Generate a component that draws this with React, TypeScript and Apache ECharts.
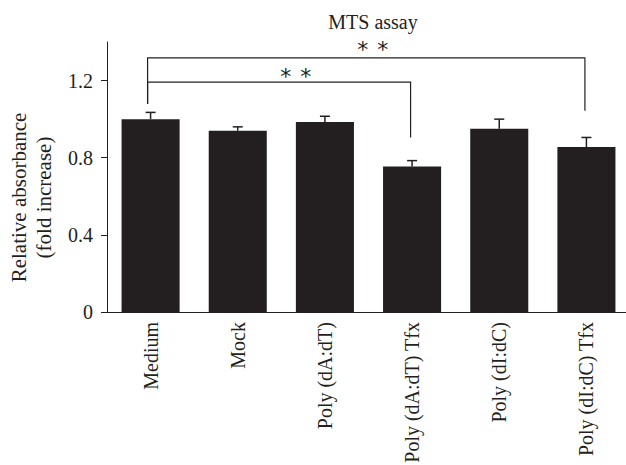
import React, { useEffect, useRef } from 'react';
import * as echarts from 'echarts';

const categories = ['Medium', 'Mock', 'Poly (dA:dT)', 'Poly (dA:dT) Tfx', 'Poly (dI:dC)', 'Poly (dI:dC) Tfx'];
const means = [1.0, 0.94, 0.985, 0.755, 0.95, 0.855];
const errors = [0.035, 0.02, 0.03, 0.03, 0.05, 0.05];
const yTicks = [0, 0.4, 0.8, 1.2];

// significance brackets (category indices and y levels in data units)
const bracketFrom = [0, 0];
const bracketTo = [5, 3];
const bracketLevel = [1.318, 1.192];
const bracketFromEnd = [1.078, 1.078];
const bracketToEnd = [1.043, 0.905];
const bracketStarX = [2.55, 1.665];
const bracketStarY = [1.384, 1.242];
const bracketLabel = ['*', '*'];

const INK = '#231f20';
const FONT = '"Liberation Serif", "Times New Roman", serif';

export default function App() {
  const ref = useRef<HTMLDivElement>(null);
  useEffect(() => {
    if (!ref.current) return;
    const chart = echarts.init(ref.current, undefined, { renderer: 'svg' });
    const errData = means.map((m, i) => [i, m, errors[i]]);
    const brData = bracketFrom.map((f, i) => [f, bracketTo[i], bracketLevel[i], bracketFromEnd[i], bracketToEnd[i], bracketStarX[i], bracketStarY[i]]);
    chart.setOption({
      animation: false,
      textStyle: { fontFamily: FONT },
      grid: { left: 107, top: 42, width: 523, height: 270, containLabel: false, outerBoundsMode: 'none' },
      graphic: [
        {
          type: 'text', x: 373, y: 22,
          style: { text: 'MTS assay', fontFamily: FONT, fontSize: 20, fill: INK, textAlign: 'center', textVerticalAlign: 'middle' },
        },
        {
          type: 'text', x: 31.5, y: 197.5, rotation: Math.PI / 2,
          style: { text: 'Relative absorbance\n(fold increase)', fontFamily: FONT, fontSize: 21, lineHeight: 25, fill: INK, textAlign: 'center', textVerticalAlign: 'middle' },
        },
      ],
      xAxis: {
        type: 'category',
        data: categories,
        axisLine: { lineStyle: { color: INK, width: 1 } },
        axisTick: { show: false },
        axisLabel: { rotate: 90, margin: 10, fontSize: 20, fontFamily: FONT, color: INK, interval: 0 },
      },
      yAxis: {
        type: 'value',
        min: 0,
        max: 1.4,
        interval: 0.4,
        splitLine: { show: false },
        axisLine: { show: true, lineStyle: { color: INK, width: 1 } },
        axisTick: { show: true, length: 6, customValues: yTicks, lineStyle: { color: INK } },
        axisLabel: { margin: 14, fontSize: 20, fontFamily: FONT, color: INK, customValues: yTicks },
      },
      series: [
        {
          type: 'bar',
          data: means,
          barCategoryGap: '33.4%',
          itemStyle: { color: INK },
        },
        {
          type: 'custom',
          data: errData,
          z: 5,
          renderItem: (params: any, api: any) => {
            const i = api.value(0);
            const m = api.value(1);
            const e = api.value(2);
            const base = api.coord([i, m]);
            const top = api.coord([i, m + e]);
            return {
              type: 'group',
              children: [
                { type: 'line', shape: { x1: base[0], y1: base[1], x2: top[0], y2: top[1] }, style: { stroke: INK, lineWidth: 1.5 } },
                { type: 'line', shape: { x1: top[0] - 5, y1: top[1], x2: top[0] + 5, y2: top[1] }, style: { stroke: INK, lineWidth: 1.5 } },
              ],
            };
          },
        },
        {
          type: 'custom',
          data: brData,
          z: 5,
          renderItem: (params: any, api: any) => {
            const f = api.value(0), t = api.value(1), lvl = api.value(2), fe = api.value(3), te = api.value(4);
            const sx = api.value(5), sy = api.value(6);
            const a = api.coord([f, lvl]);
            const b = api.coord([t, lvl]);
            const ae = api.coord([f, fe]);
            const be = api.coord([t, te]);
            const c0 = api.coord([0, sy]);
            const c1 = api.coord([1, sy]);
            const px = c0[0] + sx * (c1[0] - c0[0]);
            const py = c0[1];
            const lbl = bracketLabel[params.dataIndex];
            const starStyle = { text: lbl, fontFamily: '"DejaVu Sans", sans-serif', fontSize: 22, fill: INK, textAlign: 'center', textVerticalAlign: 'middle' };
            return {
              type: 'group',
              children: [
                {
                  type: 'polyline',
                  shape: { points: [[ae[0] - 3, ae[1]], [a[0] - 3, a[1]], [b[0] - 1.5, b[1]], [be[0] - 1.5, be[1]]] },
                  style: { stroke: INK, lineWidth: 1.2, fill: 'none' },
                },
                { type: 'text', x: px - 10, y: py + 4, style: starStyle },
                { type: 'text', x: px + 10, y: py + 4, style: starStyle },
              ],
            };
          },
        },
      ],
    });
    return () => chart.dispose();
  }, []);
  return <div ref={ref} style={{ width: 626, height: 465, position: 'absolute', left: 0, top: 0 }} />;
}
